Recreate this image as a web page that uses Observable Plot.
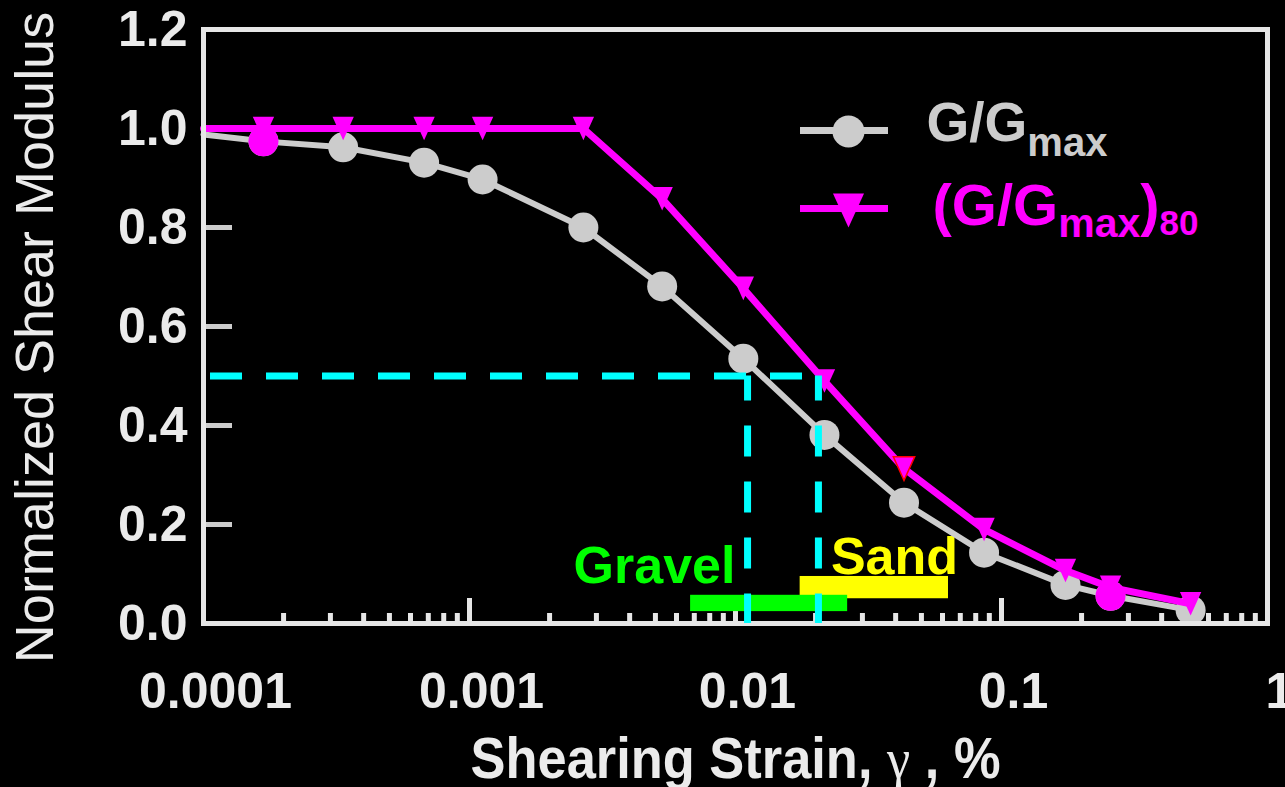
<!DOCTYPE html>
<html>
<head>
<meta charset="utf-8">
<script src="https://cdn.jsdelivr.net/npm/d3@7"></script>
<script src="https://cdn.jsdelivr.net/npm/@observablehq/plot@0.6"></script>
<style>
  html, body { margin: 0; padding: 0; background: #000; overflow: hidden; }
  #chart { width: 1285px; height: 787px; overflow: hidden; }
</style>
</head>
<body>
<div id="chart"></div>
<script>
// ---- data ----
const strain  = [0.000168, 0.000335, 0.000675, 0.00112, 0.00268, 0.0053, 0.0107, 0.0216, 0.043, 0.086, 0.174, 0.257, 0.514];
const gNorm   = [0.974, 0.962, 0.931, 0.897, 0.800, 0.681, 0.535, 0.381, 0.244, 0.143, 0.078, 0.056, 0.027];
const gNorm80 = [1.000, 1.000, 1.000, 1.000, 1.000, 0.858, 0.677, 0.490, 0.313, 0.190, 0.107, 0.073, 0.040];
const lineStartStrain = [0.0001];
const lineStartG = [0.988];
const lineStartG80 = [1.0];
const highlightIdx = [0, 11];          // points drawn as magenta circles
const outlinedIdx = [8];               // triangle with red outline
const halfLevel = [0.5];
const halfStrains = [0.0111, 0.0205];
const gravelStrain = [0.00678, 0.0264];
const gravelBand = [0.024, 0.057];
const sandStrain = [0.0175, 0.0632];
const sandBand = [0.050, 0.095];
const soilLabels = ["Gravel", "Sand"];
const soilLabelStrain = [0.00496, 0.0396];
const soilLabelLevel = [0.081, 0.101];
const xMajor = [0.0001, 0.001, 0.01, 0.1, 1];
const xMajorLabels = ["0.0001", "0.001", "0.01", "0.1", "1"];
const xMinor = [0.0001, 0.001, 0.01, 0.1].flatMap(d => [2, 3, 4, 5, 6, 7, 8, 9].map(m => m * d));
const yTicks = [0.2, 0.4, 0.6, 0.8, 1.0];
const yTickLabels = [0, 0.2, 0.4, 0.6, 0.8, 1.0, 1.2];
const xTitle = "Shearing Strain, γ , %";
const yTitle = "Normalized Shear Modulus";
const legendNames = ["G/Gmax", "(G/Gmax)80"];

// ---- styling ----
const FONT = "'Liberation Sans', Arial, Helvetica, sans-serif";
const GRAY = "#cccccc", MAG = "#ff00ff", CYAN = "#00ffff", GREEN = "#00ff00", YELLOW = "#ffff00";
const FRAME = "#e6e6e6", LABEL = "#ebebeb";

const triDown = {
  draw(ctx, size) {
    const r = Math.sqrt(size / Math.PI);
    const w = r * 0.97, h = r * 1.07;
    ctx.moveTo(-w, -h);
    ctx.lineTo(w, -h);
    ctx.lineTo(0, h);
    ctx.closePath();
  }
};

const pts = strain.map((s, i) => ({s, g: gNorm[i], g80: gNorm80[i], i}));
const line1 = lineStartStrain.concat(strain).map((s, i) => ({s, g: lineStartG.concat(gNorm)[i]}));
const line2 = lineStartStrain.concat(strain).map((s, i) => ({s, g: lineStartG80.concat(gNorm80)[i]}));

const chart = Plot.plot({
  width: 1285,
  height: 787,
  marginLeft: 203,
  marginRight: 18,
  marginTop: 29,
  marginBottom: 164,
  style: {background: "#000", color: LABEL, fontFamily: FONT},
  x: {type: "log", domain: [0.0001, 1], axis: null},
  y: {domain: [0, 1.2], axis: null},
  marks: [
    // inward ticks
    Plot.ruleY(yTicks, {x1: 0.0001, x2: 0.0001, insetRight: -29, stroke: GRAY, strokeWidth: 5}),
    Plot.ruleX(xMinor, {y1: 0, y2: 0, insetTop: -10, stroke: FRAME, strokeWidth: 5}),
    Plot.ruleX(xMajor, {y1: 0, y2: 0, insetTop: -25, stroke: FRAME, strokeWidth: 5}),
    // soil bars
    Plot.rect([0], {x1: sandStrain[0], x2: sandStrain[1], y1: sandBand[0], y2: sandBand[1], fill: YELLOW}),
    Plot.rect([0], {x1: gravelStrain[0], x2: gravelStrain[1], y1: gravelBand[0], y2: gravelBand[1], fill: GREEN}),
    Plot.text(soilLabels, {x: (d, i) => soilLabelStrain[i], y: (d, i) => soilLabelLevel[i], text: d => d,
      fill: (d, i) => i === 0 ? GREEN : YELLOW, fontSize: 52, fontWeight: "bold", fontFamily: FONT, lineAnchor: "bottom"}),
    // G/Gmax
    Plot.line(line1, {x: "s", y: "g", stroke: GRAY, strokeWidth: 6}),
    Plot.dot(pts, {x: "s", y: "g", r: 15, fill: GRAY}),
    // (G/Gmax)80
    Plot.line(line2, {x: "s", y: "g", stroke: MAG, strokeWidth: 7}),
    Plot.dot(pts, {x: "s", y: "g80", r: 11, symbol: triDown, fill: MAG,
      stroke: d => outlinedIdx.includes(d.i) ? "red" : "none", strokeWidth: 1.5}),
    Plot.dot(pts.filter(d => highlightIdx.includes(d.i)), {x: "s", y: "g", r: 15, fill: MAG}),
    // frame
    Plot.frame({stroke: FRAME, strokeWidth: 5}),
    // 0.5 reference dashed lines
    Plot.ruleY(halfLevel, {x1: 0.0001, x2: halfStrains[1], stroke: CYAN, strokeWidth: 7, strokeDasharray: "32,24", strokeDashoffset: 49}),
    Plot.ruleX(halfStrains, {y1: halfLevel[0], y2: 0, stroke: CYAN, strokeWidth: 7, strokeDasharray: "31,25", strokeDashoffset: 6}),
    // tick labels
    Plot.text(yTickLabels, {x: 0.0001, y: d => d, text: d => d.toFixed(1), textAnchor: "end", dx: -16,
      fill: LABEL, fontSize: 50, fontWeight: "bold", fontFamily: FONT}),
    Plot.text(xMajor, {x: d => d, y: 0, text: (d, i) => xMajorLabels[i], dx: 12, dy: 68,
      fill: LABEL, fontSize: 50, fontWeight: "bold", fontFamily: FONT}),
    // axis titles
    Plot.text([xTitle], {frameAnchor: "bottom", dy: 154, lineAnchor: "bottom", textAnchor: "middle", text: d => d,
      fill: LABEL, fontSize: 58, fontWeight: "bold", fontFamily: FONT}),
    Plot.text([yTitle], {frameAnchor: "left", dx: -168, dy: 11, rotate: -90, textAnchor: "middle", lineAnchor: "middle", text: d => d,
      fill: LABEL, fontSize: 54, fontWeight: "normal", fontFamily: FONT}),
    // legend
    Plot.ruleY([0], {y: null, insetLeft: 597, insetRight: 379, dy: -196, stroke: GRAY, strokeWidth: 7}),
    Plot.dot([0], {frameAnchor: "top-left", dx: 645, dy: 102, r: 16, fill: GRAY}),
    Plot.text([legendNames[0]], {frameAnchor: "top-left", dx: 723, dy: 111, lineAnchor: "bottom", textAnchor: "start",
      text: d => d, fill: GRAY, fontSize: 55, fontWeight: "bold", fontFamily: FONT}),
    Plot.ruleY([0], {y: null, insetLeft: 597, insetRight: 379, dy: -118, stroke: MAG, strokeWidth: 7}),
    Plot.dot([0], {frameAnchor: "top-left", dx: 645, dy: 181, r: 16, symbol: triDown, fill: MAG}),
    Plot.text([legendNames[1]], {frameAnchor: "top-left", dx: 729, dy: 195, lineAnchor: "bottom", textAnchor: "start",
      text: d => d, fill: MAG, fontSize: 58, fontWeight: "bold", fontFamily: FONT})
  ]
});

// rich text: subscripts and the serif gamma (found by their text content)
function rich(content, parts, extra) {
  const node = Array.from(chart.querySelectorAll("text")).find(t => t.textContent === content);
  if (!node) return;
  const t = d3.select(node);
  t.selectAll("*").remove();
  t.text(null);
  for (const p of parts) {
    const s = t.append("tspan").text(p.text);
    for (const k in (p.attrs || {})) s.attr(k, p.attrs[k]);
  }
  for (const k in (extra || {})) t.attr(k, extra[k]);
}
rich(legendNames[0], [
  {text: "G/G"},
  {text: "max", attrs: {"font-size": 40, dy: 15}}
]);
rich(legendNames[1], [
  {text: "(G/G"},
  {text: "max", attrs: {"font-size": 41, dy: 12}},
  {text: ")", attrs: {"font-size": 58, dy: -12}},
  {text: "80", attrs: {"font-size": 35, dy: 10}}
]);
rich(xTitle, [
  {text: "Shearing Strain, "},
  {text: "γ", attrs: {"font-family": "'Liberation Serif', 'Times New Roman', serif", "font-weight": "normal", "font-size": 58}},
  {text: " , %"}
], {textLength: 530, lengthAdjust: "spacingAndGlyphs"});

document.getElementById("chart").appendChild(chart);
</script>
</body>
</html>
